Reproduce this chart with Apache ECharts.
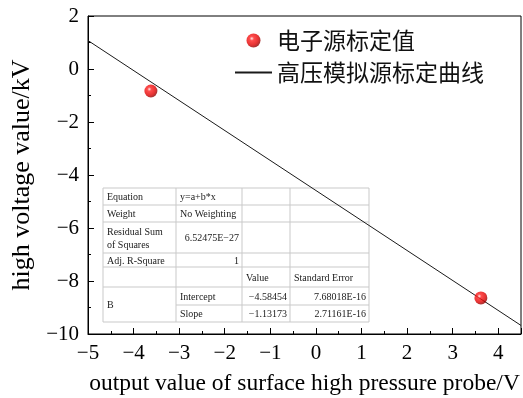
<!DOCTYPE html>
<html>
<head>
<meta charset="utf-8">
<script src="https://cdn.jsdelivr.net/npm/echarts@6/dist/echarts.min.js"></script>
<style>
  html, body { margin: 0; padding: 0; background: #fff; }
  #chart { width: 523px; height: 398px; }
</style>
</head>
<body>
<div id="chart"></div>
<script>
// Calibration points from the electron source
const sourceX = [-3.62, 3.62];
const sourceY = [-0.83, -8.64];

// Linear fit of the simulated high-voltage source: y = a + b*x
const intercept = -4.58454;
const slope = -1.13173;
const lineX = [-5, 4.5];

// Axis ticks
const xTicks = [-5, -4, -3, -2, -1, 0, 1, 2, 3, 4];
const yTicks = [-10, -8, -6, -4, -2, 0, 2];

// Series names
const seriesNames = ['电子源标定值', '高压模拟源标定曲线'];

// Fit report table
const tableRows = [
  ['Equation', 'y=a+b*x', '', ''],
  ['Weight', 'No Weighting', '', ''],
  ['Residual Sum\nof Squares', '6.52475E\u221227', '', ''],
  ['Adj. R-Square', '1', '', ''],
  ['', '', 'Value', 'Standard Error'],
  ['B', 'Intercept', intercept, '7.68018E-16'],
  ['', 'Slope', slope, '2.71161E-16']
];

const fmt = v => String(v).replace('-', '\u2212');
const serif = '"Liberation Serif", "Times New Roman", serif';

const chart = echarts.init(document.getElementById('chart'), null, { renderer: 'canvas' });

// Table layout
const colX = [103, 176, 242, 290, 369];
const rowY = [188, 205, 222, 253, 267, 287, 305, 322];
const gridColor = '#c9c9c9';
const tableEls = [];
for (let i = 0; i < rowY.length; i++) {
  // the rule between Intercept and Slope stops at the merged "B" cell
  const x0 = (i === 6) ? colX[1] : colX[0];
  tableEls.push({ type: 'line', shape: { x1: x0, y1: rowY[i], x2: colX[4], y2: rowY[i] },
    style: { stroke: gridColor, lineWidth: 1 }, silent: true });
}
for (let j = 0; j < colX.length; j++) {
  tableEls.push({ type: 'line', shape: { x1: colX[j], y1: rowY[0], x2: colX[j], y2: rowY[rowY.length - 1] },
    style: { stroke: gridColor, lineWidth: 1 }, silent: true });
}
// numeric entries are right-aligned
const rightAligned = (r, c) => (r === 2 && c === 1) || (r === 3 && c === 1) || (r >= 5 && c >= 2);
tableRows.forEach((row, r) => {
  row.forEach((cell, c) => {
    if (cell === '') return;
    let yTop = rowY[r], yBot = rowY[r + 1];
    if (r === 5 && c === 0) yBot = rowY[7];
    const ra = rightAligned(r, c);
    tableEls.push({
      type: 'text', silent: true,
      style: {
        text: typeof cell === 'number' ? fmt(cell) : cell,
        x: ra ? colX[c + 1] - 3 : colX[c] + 4,
        y: (yTop + yBot) / 2 + 1,
        align: ra ? 'right' : 'left',
        verticalAlign: 'middle',
        font: '10px ' + serif,
        fill: '#1a1a1a',
        lineHeight: 13
      }
    });
  });
});

const sphere = new echarts.graphic.RadialGradient(0.38, 0.36, 0.62, [
  { offset: 0, color: '#ffe4e4' },
  { offset: 0.25, color: '#ff2020' },
  { offset: 0.75, color: '#e00000' },
  { offset: 1, color: '#9a0000' }
]);

const option = {
  backgroundColor: '#ffffff',
  animation: false,
  grid: {
    left: 88, right: 2, top: 16, bottom: 64, outerBoundsMode: 'none', containLabel: false,
    show: true, borderColor: '#000', borderWidth: 1, backgroundColor: 'transparent'
  },
  legend: {
    orient: 'vertical', left: 234, top: 29, padding: 0, itemWidth: 37, itemHeight: 14, itemGap: 9,
    data: [
      { name: seriesNames[0] },
      { name: seriesNames[1], itemStyle: { opacity: 0 } }
    ],
    textStyle: { fontSize: 23, fontFamily: '"Noto Sans CJK SC", sans-serif', color: '#111', lineHeight: 22 }
  },
  xAxis: {
    type: 'value', min: -5, max: 4.5, interval: 1,
    name: 'output value of surface high pressure probe/V', nameLocation: 'middle', nameGap: 38,
    nameTextStyle: { fontSize: 23.5, fontFamily: serif, color: '#000' },
    axisLine: { onZero: false, lineStyle: { color: '#000', width: 1 } },
    axisTick: { inside: true, length: 6, lineStyle: { color: '#000' } },
    minorTick: { show: true, splitNumber: 2, length: 3, lineStyle: { color: '#000' } },
    splitLine: { show: false },
    axisLabel: {
      fontSize: 21, fontFamily: serif, color: '#000', margin: 9,
      formatter: v => xTicks.includes(v) ? fmt(v) : ''
    }
  },
  yAxis: {
    type: 'value', min: -10, max: 2, interval: 2,
    name: 'high voltage value/kV', nameLocation: 'middle', nameGap: 52, nameRotate: 90,
    nameTextStyle: { fontSize: 26, fontFamily: serif, color: '#000' },
    axisLine: { onZero: false, lineStyle: { color: '#000', width: 1 } },
    axisTick: { inside: true, length: 6, lineStyle: { color: '#000' } },
    minorTick: { show: true, splitNumber: 2, length: 3, lineStyle: { color: '#000' } },
    splitLine: { show: false },
    axisLabel: {
      fontSize: 21, fontFamily: serif, color: '#000', margin: 9,
      formatter: v => yTicks.includes(v) ? fmt(v) : ''
    }
  },
  series: [
    {
      name: seriesNames[1], type: 'line', symbol: 'none', z: 3,
      lineStyle: { color: '#1a1a1a', width: 1 },
      data: lineX.map(x => [x, intercept + slope * x])
    },
    {
      name: seriesNames[0], type: 'scatter', symbol: 'circle', symbolSize: 13, z: 4,
      itemStyle: { color: sphere },
      data: sourceX.map((x, i) => [x, sourceY[i]])
    }
  ],
  graphic: [{ type: 'group', z: 1, children: tableEls }]
};

chart.setOption(option);
</script>
</body>
</html>
